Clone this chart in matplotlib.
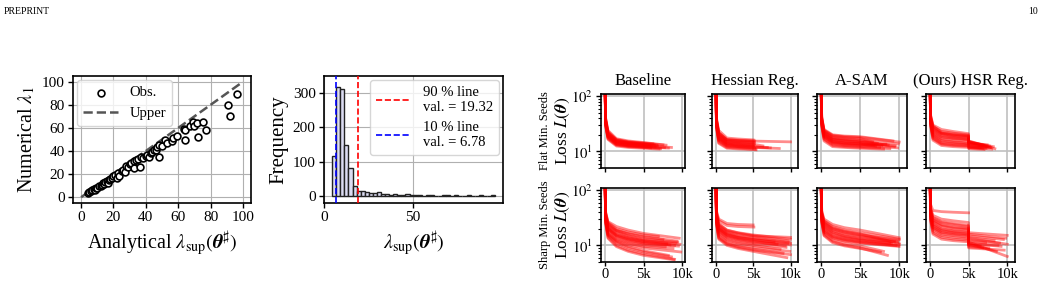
import matplotlib
matplotlib.use("Agg")
import matplotlib.pyplot as plt
import numpy as np

plt.rcParams["font.family"] = ["Liberation Serif", "DejaVu Serif"]
plt.rcParams["mathtext.fontset"] = "stix"

# ---------------- data: scatter (analytical vs numerical) ----------------
ana_x = [4, 5, 6, 7, 8, 8.5, 9, 10, 11, 12, 13, 13.5, 14, 15, 16, 16.5, 17, 18, 19, 20,
         21, 22, 23, 23.5, 25, 26, 27, 28, 29, 30, 31, 32.5, 33, 34, 35, 36.5, 37, 38, 40,
         41, 42, 43, 44, 45, 46.5, 47, 48, 48, 50, 52, 53, 56, 57, 59, 63.5, 64, 64.5, 67,
         69, 70, 71.5, 72, 75.5, 77, 90.5, 92, 96.5]
num_y = [4, 4.5, 5, 6, 7, 6.5, 8, 8, 9.5, 10, 11, 12, 11.5, 13, 14, 12, 15, 16, 17, 18,
         19, 17, 21, 18.5, 23, 24, 22, 27, 26, 29, 30, 31.5, 25, 32, 33, 26, 35, 34, 36,
         37, 34.5, 38, 39, 41, 40.5, 43.5, 34.5, 45, 44, 49.5, 47, 48.5, 51, 53, 59.5, 58, 49.5, 62,
         65.5, 61.5, 64.5, 52, 65.5, 58.5, 80, 70, 89.5]
upper_x = [0, 100]

# ---------------- data: histogram of lambda_sup ----------------
hist_range = (4.6, 96.5)
hist_counts = [116, 318, 313, 149, 82, 29, 15, 14, 12, 9, 9, 11, 5, 5, 3, 6, 3, 2, 7, 3,
               2, 2, 1, 2, 2, 1, 1, 3, 2, 1, 2, 1, 1, 2, 1, 1, 2, 1, 1, 2]
q90, q10 = 19.32, 6.78

# ---------------- data: loss curves ----------------
# each curve: (last step, loss at every knot step..., loss at last step)
START_LOSS = 300
KNOTS = [100, 400, 1500, 3000, 5000]
KNOTS_HSR = [100, 400, 1500, 3000, 4990, 5010]
columns = ["Baseline", "Hessian Reg.", "A-SAM", "(Ours) HSR Reg."]
rows = ["Flat Min. Seeds", "Sharp Min. Seeds"]

flat_baseline = [
    (8600, 34, 20, 14.5, 13.5, 12.8, 11.8), (7900, 38, 22, 16, 14.8, 14.0, 13.0),
    (7200, 30, 17, 13.0, 12.2, 11.8, 11.2), (6800, 36, 21, 15.5, 14.2, 13.5, 12.6),
    (6500, 32, 18.5, 14.0, 13.0, 12.4, 12.0), (7500, 40, 24, 17.0, 15.5, 14.5, 13.2),
    (6000, 33, 19, 14.8, 13.8, 13.0, 12.5), (5800, 35, 20, 15.0, 14.0, 13.4, 13.0),
    (7000, 29, 16.5, 12.5, 11.8, 11.4, 11.0), (6200, 37, 21.5, 16.5, 15.0, 14.2, 13.8),
    (8200, 31, 18, 13.5, 12.6, 12.0, 11.5), (5600, 34, 19.5, 14.2, 13.2, 12.6, 12.3),
    (6700, 39, 23, 16.0, 14.6, 13.8, 13.0), (7700, 33, 18.8, 13.8, 12.9, 12.3, 11.7),
    (6400, 36, 20.5, 15.2, 14.3, 13.6, 13.1), (5900, 30, 17.5, 13.2, 12.4, 11.9, 11.6),
]
flat_hessian = [
    (5200, 38, 22, 16.5, 16.0, 15.5, 15.3), (10000, 36, 21, 16.2, 15.8, 15.4, 14.9),
    (8500, 30, 16, 12.8, 12.2, 11.8, 11.3), (5100, 33, 18, 14.0, 13.4, 13.0, 12.9),
    (5300, 28, 14.5, 11.8, 11.4, 11.0, 10.9), (6900, 31, 17, 13.2, 12.6, 12.2, 11.8),
    (5000, 35, 20, 15.5, 15.0, 14.6, 14.6), (5200, 29, 15.5, 12.3, 11.9, 11.5, 11.4),
    (6300, 34, 19, 14.6, 14.0, 13.5, 12.6), (5100, 40, 24, 17.5, 16.8, 16.2, 16.1),
    (5000, 32, 17.5, 13.6, 13.0, 12.5, 12.5), (5400, 27, 14, 11.4, 11.1, 10.8, 10.7),
    (5100, 37, 21.5, 16.0, 15.3, 14.8, 14.7), (7300, 30, 16.5, 12.9, 12.4, 12.0, 11.6),
    (5000, 33, 18.5, 14.3, 13.8, 13.3, 13.3), (5200, 36, 20, 15.0, 14.5, 14.0, 13.9),
]
flat_asam = [
    (10000, 40, 24, 19.5, 18.5, 18.0, 14.8), (9800, 34, 19, 14.5, 13.5, 13.0, 11.6),
    (9500, 36, 21, 16.5, 15.5, 14.8, 12.6), (8300, 32, 18, 14.0, 13.2, 12.8, 13.5),
    (7200, 38, 22, 17.5, 16.5, 15.8, 14.0), (8800, 30, 16.5, 12.8, 12.2, 11.8, 11.2),
    (7800, 35, 20, 15.5, 14.5, 14.0, 12.8), (9200, 42, 25, 20.0, 19.0, 18.5, 15.5),
    (6800, 33, 18.5, 14.8, 14.0, 13.5, 12.9), (8600, 37, 22, 17.0, 16.0, 15.0, 13.0),
    (7500, 31, 17, 13.5, 12.8, 12.3, 11.8), (9900, 39, 23, 18.0, 17.0, 16.2, 13.6),
    (7000, 34, 19.5, 15.2, 14.2, 13.6, 12.5), (8000, 29, 15.5, 12.2, 11.8, 11.4, 11.0),
    (9400, 36, 21, 16.2, 15.2, 14.5, 12.2), (6600, 41, 24, 19.0, 18.0, 17.2, 15.0),
]
flat_hsr = [
    (8400, 45, 30, 25, 23, 21, 15.0, 11.2), (7800, 40, 26, 21, 19.5, 18.5, 14.0, 11.8),
    (7200, 34, 20, 16, 15.0, 14.2, 12.5, 11.5), (8000, 30, 17, 13.5, 12.8, 12.4, 11.6, 11.0),
    (6900, 42, 28, 23, 21.5, 20.0, 15.5, 13.0), (7500, 36, 22, 18, 17.0, 16.2, 13.5, 12.0),
    (6500, 32, 18.5, 14.5, 13.8, 13.2, 12.0, 11.6), (7700, 38, 24, 19.5, 18.0, 17.0, 14.5, 12.5),
    (7000, 29, 16, 12.8, 12.2, 11.8, 11.2, 10.8), (8200, 44, 29, 22, 20.5, 19.0, 14.8, 12.2),
    (6700, 35, 21, 17, 16.0, 15.3, 13.0, 12.4), (7300, 33, 19.5, 15.5, 14.6, 13.8, 12.4, 11.5),
    (7900, 39, 25, 20.5, 19.0, 18.0, 13.8, 11.9), (6800, 31, 17.5, 14.0, 13.3, 12.8, 11.8, 11.3),
    (7400, 37, 23, 18.5, 17.5, 16.6, 14.2, 13.2), (7100, 41, 27, 21.5, 20.0, 19.2, 15.2, 12.8),
]
sharp_baseline = [
    (9600, 40, 27, 22, 19, 16.5, 13.5), (9300, 38, 25, 19, 16.5, 14.5, 12.0),
    (9700, 35, 22, 17, 14.5, 12.5, 10.5), (9000, 33, 20, 15, 13.0, 11.5, 10.0),
    (9500, 31, 18.5, 14, 12.0, 10.8, 9.7), (8800, 29, 16.5, 12.5, 10.8, 9.6, 8.8),
    (9200, 34, 21, 16, 13.8, 12.2, 11.0), (8600, 27, 15, 11, 9.0, 7.6, 6.2),
    (9000, 26, 14, 10, 8.2, 7.0, 5.6), (8200, 28, 15.5, 11.5, 9.5, 8.0, 6.6),
    (8900, 25, 13.5, 9.5, 7.8, 6.6, 5.5), (7500, 36, 24, 18.5, 16.0, 14.0, 12.8),
    (8400, 32, 19.5, 14.8, 12.6, 11.0, 10.2), (9400, 37, 23, 18.0, 15.0, 13.0, 11.5),
    (7800, 30, 17.5, 13.2, 11.4, 10.2, 9.4), (8000, 33, 20.5, 15.5, 13.3, 11.8, 10.8),
    (6900, 39, 26, 20, 17.5, 15.5, 14.5), (9800, 28, 16, 12, 10.2, 9.0, 7.6),
]
sharp_hessian = [
    (5000, 42, 30, 25, 24, 23.5, 23.5), (5100, 40, 28, 23, 22, 21.5, 21.5),
    (10000, 38, 25, 19, 17, 15.5, 13.0), (9800, 35, 22, 17, 15, 13.8, 11.5),
    (9600, 33, 20, 15.5, 13.8, 12.6, 10.8), (10000, 31, 18.5, 14.5, 12.8, 11.6, 10.2),
    (9400, 29, 17, 13, 11.5, 10.5, 9.2), (9900, 27, 15, 11.5, 10.2, 9.2, 7.8),
    (10000, 25, 13.5, 10.5, 9.2, 8.2, 6.8), (9000, 26, 14, 11, 9.6, 8.6, 7.2),
    (8600, 28, 16, 12.5, 11.0, 10.0, 8.5), (9700, 36, 23, 18, 16.2, 14.8, 12.2),
    (10000, 34, 21, 16.5, 14.5, 13.2, 11.0), (8200, 30, 18, 14, 12.4, 11.2, 10.5),
    (9300, 32, 19.5, 15, 13.2, 12.0, 9.8), (10000, 37, 24, 18.8, 16.8, 15.0, 14.0),
    (9500, 24, 13, 10, 8.8, 7.8, 6.0), (7800, 33, 20.5, 16, 14.0, 12.8, 11.6),
]
sharp_asam = [
    (10000, 42, 30, 24, 21, 19, 13.8), (10000, 38, 26, 20, 17.5, 15.5, 12.5),
    (9800, 35, 23, 17.5, 15.0, 13.5, 11.5), (10000, 33, 21, 16, 14.0, 12.6, 10.5),
    (9600, 31, 19, 14.5, 12.8, 11.6, 10.0), (10000, 29, 17.5, 13.5, 12.0, 11.0, 9.6),
    (8500, 27, 15.5, 11.8, 10.2, 9.0, 6.6), (8000, 28, 16.5, 12.5, 11.0, 9.8, 7.8),
    (9400, 36, 24, 18.5, 16.0, 14.4, 11.8), (10000, 40, 28, 22, 19.0, 17.0, 13.0),
    (9000, 32, 20, 15.2, 13.4, 12.2, 10.8), (9900, 30, 18, 14, 12.4, 11.3, 9.8),
    (8800, 34, 22, 17, 14.6, 13.0, 11.2), (9700, 37, 25, 19.5, 16.8, 15.0, 12.0),
    (7600, 26, 15, 11.2, 9.8, 8.8, 7.6), (10000, 39, 27, 21, 18.2, 16.2, 10.8),
]
sharp_hsr = [
    (5000, 55, 43, 41, 40, 39, 39, 39), (10000, 48, 35, 30, 28, 26, 17, 15.2),
    (9500, 45, 32, 27, 25, 23, 15, 12.8), (10000, 42, 29, 24, 22, 20.5, 13.5, 10.5),
    (9000, 40, 27, 22, 20, 19, 12.5, 11.0), (10000, 38, 25, 20, 18.5, 17.5, 11.5, 6.3),
    (8600, 36, 23, 18.5, 17, 16, 10.5, 7.8), (9200, 34, 21.5, 17, 15.8, 15, 11, 9.6),
    (7600, 32, 20, 16, 15, 14, 10, 9.0), (8800, 30, 18.5, 15, 14, 13.2, 10.8, 10.0),
    (6800, 29, 17, 14, 13, 12.4, 9.4, 9.0), (9800, 44, 31, 26, 24, 22, 16, 13.5),
    (7200, 37, 24, 19.5, 18, 17, 12, 11.2), (8300, 41, 28, 23, 21, 19.8, 14, 12.2),
    (6500, 33, 21, 17.5, 16.5, 15.5, 10.2, 9.8), (9600, 28, 16, 13, 12.2, 11.6, 9.0, 8.2),
]
panels = [[flat_baseline, flat_hessian, flat_asam, flat_hsr],
          [sharp_baseline, sharp_hessian, sharp_asam, sharp_hsr]]
panel_knots = [KNOTS, KNOTS, KNOTS, KNOTS_HSR]

# ---------------- layout (pixel boxes: left, top, right, bottom) ----------------
W, H = 1041, 281
fig = plt.figure(figsize=(W / 100, H / 100), dpi=100)


def add_ax(l, t, r, b):
    return fig.add_axes([l / W, 1 - b / H, (r - l) / W, (b - t) / H])


def style(ax, size=11):
    for s in ax.spines.values():
        s.set_linewidth(1.2)
    ax.tick_params(labelsize=size, width=1, length=3.5, pad=2.5)


fig.text(4 / W, 1 - 12 / H, "PREPRINT", fontsize=7, va="center")
fig.text(1038 / W, 1 - 12 / H, "10", fontsize=7, va="center", ha="right")

# ---------------- scatter ----------------
ax = add_ax(73, 76, 251, 203)
ax.scatter(ana_x, num_y, s=24, facecolor="white", edgecolor="black", lw=1.2, label="Obs.", zorder=3)
ax.plot(upper_x, upper_x, ls="--", color="#555555", lw=1.8, label="Upper", zorder=2)
ax.set_xlim(-5, 105); ax.set_ylim(-5, 105)
ax.set_xticks([0, 20, 40, 60, 80, 100]); ax.set_yticks([0, 20, 40, 60, 80, 100])
ax.grid(color="#b0b0b0", lw=0.8)
ax.set_xlabel(r"Analytical $\lambda_{\mathrm{sup}}(\boldsymbol{\theta}^{\sharp})$", fontsize=14.5, labelpad=3)
ax.set_ylabel(r"Numerical $\lambda_1$", fontsize=14.5, labelpad=3)
ax.legend(loc="upper left", fontsize=10.5, handlelength=2.4, borderaxespad=0.3)
style(ax)

# ---------------- histogram ----------------
ax = add_ax(324, 76, 503, 203)
edges = np.linspace(hist_range[0], hist_range[1], len(hist_counts) + 1)
centers = 0.5 * (edges[:-1] + edges[1:])
ax.hist(centers, bins=edges, weights=hist_counts, facecolor="#dcdcf2", edgecolor="#222222", lw=1.0, zorder=2)
ax.axvline(q90, color="red", ls="--", lw=1.2, label=f"90 % line\nval. = {q90:.2f}", zorder=3)
ax.axvline(q10, color="blue", ls="--", lw=1.2, label=f"10 % line\nval. = {q10:.2f}", zorder=3)
ax.set_xlim(0, 101); ax.set_ylim(-20, 350)
ax.set_xticks([0, 50]); ax.set_yticks([0, 100, 200, 300])
ax.grid(color="#b0b0b0", lw=0.8)
ax.set_xlabel(r"$\lambda_{\mathrm{sup}}(\boldsymbol{\theta}^{\sharp})$", fontsize=14.5, labelpad=3)
ax.set_ylabel("Frequency", fontsize=15, labelpad=3)
ax.legend(loc="upper right", fontsize=10.5, handlelength=2.4, borderaxespad=0.3)
style(ax)

# ---------------- loss curves grid ----------------
col_px = [(601, 685), (712, 798), (817, 907), (926, 1015)]
col_xmax = [10350, 11000, 11000, 11000]
row_px = [(94, 168), (188, 262)]

for i, (top, bot) in enumerate(row_px):
    for j, (left, right) in enumerate(col_px):
        ax = add_ax(left, top, right, bot)
        knots = panel_knots[j]
        for end, *vals in panels[i][j]:
            xs = [0] + [k for k in knots if k < end] + [end]
            ys = [START_LOSS] + [v for k, v in zip(knots, vals[:-1]) if k < end] + [vals[-1]]
            ax.plot(xs, ys, color="red", alpha=0.45, lw=2.0)
        ax.set_yscale("log")
        ax.set_ylim(5, 110)
        ax.set_xlim(-500, col_xmax[j])
        ax.set_xticks([0, 5000, 10000])
        ax.set_yticks([10, 100])
        ax.grid(True, which="major", color="#c0c0c0", lw=1.2)
        style(ax, 10.5)
        ax.tick_params(axis="x", length=3, pad=1)
        ax.tick_params(which="minor", length=2, width=0.8)
        if i == 0:
            ax.set_xticklabels([])
            fig.text((left + right) / 2 / W, 1 - 81 / H, columns[j], fontsize=12, ha="center", va="center")
        else:
            ax.set_xticklabels(["0", "5k", "10k"])
        if j == 0:
            ax.set_yticklabels([r"$10^1$", r"$10^2$"])
            yc = 1 - (top + bot) / 2 / H
            fig.text(545 / W, yc, rows[i], rotation=90, fontsize=9, ha="center", va="center")
            fig.text(563 / W, yc, r"Loss $L(\boldsymbol{\theta})$", rotation=90, fontsize=12.5,
                     ha="center", va="center")
        else:
            ax.set_yticklabels([])
        ax.yaxis.set_minor_formatter(matplotlib.ticker.NullFormatter())

fig.savefig("out.png", dpi=100)
